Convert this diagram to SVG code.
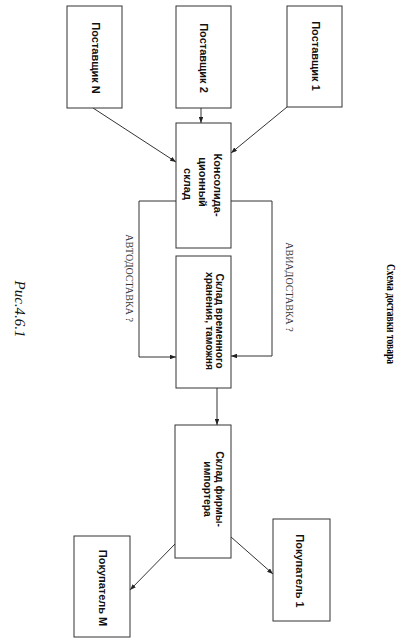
<svg xmlns="http://www.w3.org/2000/svg" width="404" height="642" viewBox="0 0 404 642">
<defs>
<style>
.box{fill:#fff;stroke:#333;stroke-width:1}
.lbl{font-family:"Liberation Sans",Arial,sans-serif;font-weight:bold;font-size:11px;fill:#111;text-anchor:middle;dominant-baseline:central}
.lbl2{font-family:"Liberation Sans",Arial,sans-serif;font-weight:bold;font-size:10.3px;fill:#111;text-anchor:middle;dominant-baseline:central}
.cap{font-family:"Liberation Serif","Times New Roman",serif;font-size:10px;fill:#333;text-anchor:middle;dominant-baseline:central}
.title{font-family:"Liberation Serif","Times New Roman",serif;font-weight:bold;font-size:12.5px;fill:#000;text-anchor:middle;dominant-baseline:central}
.fig{font-family:"Liberation Serif","Times New Roman",serif;font-style:italic;font-size:15px;fill:#111;text-anchor:middle;dominant-baseline:central}
.con{fill:none;stroke:#333;stroke-width:1;marker-end:url(#ah)}
</style>
<marker id="ah" viewBox="0 0 8 6" refX="8" refY="3" markerWidth="6" markerHeight="4.5" orient="auto" markerUnits="userSpaceOnUse">
<path d="M0,0 L8,3 L0,6 z" fill="#222"/>
</marker>
</defs>
<rect width="404" height="642" fill="#fff"/>
<g id="connectors">
<line class="con" x1="201" y1="108" x2="201" y2="123"/>
<line class="con" x1="93" y1="108" x2="176" y2="162"/>
<line class="con" x1="287" y1="107" x2="231" y2="153"/>
<polyline class="con" points="176,201 139,201 139,357 176,357"/>
<polyline class="con" points="231,201 272,201 272,356 231,356"/>
<line class="con" x1="217" y1="388" x2="217" y2="425"/>
<line class="con" x1="175" y1="544" x2="130" y2="590"/>
<line class="con" x1="231" y1="537" x2="273" y2="574"/>
</g>
<g id="supplierN">
<rect class="box" x="67" y="6" width="55" height="102"/>
<text class="lbl" transform="translate(96,58) rotate(90)">Поставщик N</text>
</g>
<g id="supplier2">
<rect class="box" x="176" y="6" width="55" height="102"/>
<text class="lbl" transform="translate(204,58) rotate(90)">Поставщик 2</text>
</g>
<g id="supplier1">
<rect class="box" x="287" y="6" width="55" height="101"/>
<text class="lbl" transform="translate(316,56) rotate(90)">Поставщик 1</text>
</g>
<g id="consolidation">
<rect class="box" x="176" y="123" width="55" height="125"/>
<text class="lbl" transform="translate(218,185) rotate(90)">Консолида-</text>
<text class="lbl" transform="translate(203,182) rotate(90)">ционный</text>
<text class="lbl" transform="translate(188,184) rotate(90)">склад</text>
</g>
<g id="customs">
<rect class="box" x="176" y="256" width="55" height="132"/>
<text class="lbl2" transform="translate(219.5,321) rotate(90)">Склад временного</text>
<text class="lbl2" transform="translate(209,321) rotate(90)">хранения, таможня</text>
</g>
<g id="importer">
<rect class="box" x="175" y="425" width="56" height="133"/>
<text class="lbl2" transform="translate(219,489) rotate(90)">Склад фирмы-</text>
<text class="lbl2" transform="translate(207,489) rotate(90)">импортера</text>
</g>
<g id="buyerM">
<rect class="box" x="74" y="536" width="56" height="101"/>
<text class="lbl" transform="translate(103,588) rotate(90)">Покупатель М</text>
</g>
<g id="buyer1">
<rect class="box" x="273" y="519" width="57" height="102"/>
<text class="lbl" transform="translate(300,571) rotate(90)">Покупатель 1</text>
</g>
<text class="cap" transform="translate(129.5,278) rotate(90)">АВТОДОСТАВКА ?</text>
<text class="cap" transform="translate(289,287) rotate(90)">АВИАДОСТАВКА ?</text>
<text class="title" transform="translate(391,314) rotate(90)" textLength="100" lengthAdjust="spacingAndGlyphs">Схема доставки товара</text>
<text class="fig" transform="translate(20,309) rotate(90)">Рис.4.6.1</text>
</svg>
